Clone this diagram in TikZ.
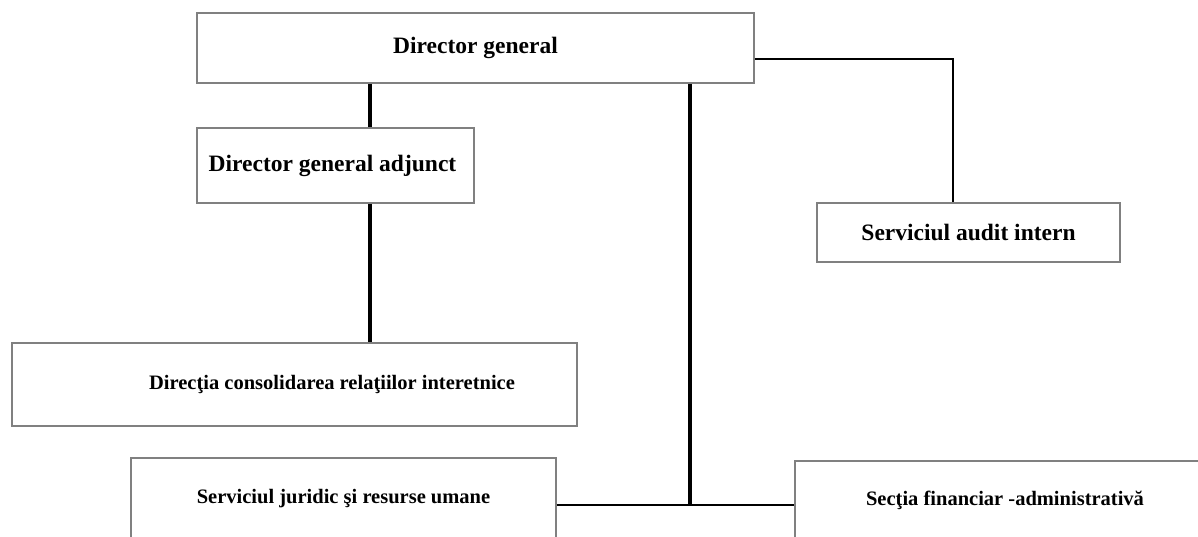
\documentclass[tikz,border=0pt]{standalone}
\usepackage{fontspec}
\setmainfont{Liberation Serif}
\usetikzlibrary{calc}

\begin{document}
\begin{tikzpicture}[x=1pt, y=-1pt,
		box/.style={draw=black!50, line width=1.8pt, fill=white, inner sep=0pt, font=\bfseries\fontsize{23.5}{28}\selectfont},
		smallbox/.style={box, font=\bfseries\fontsize{20.5}{24}\selectfont},
		heavy/.style={line width=3.6pt},
		light/.style={line width=1.5pt}]
				\useasboundingbox (0,0) rectangle (1198,536);
				\node[box, minimum width=277pt, minimum height=75pt] (dga) at (335.5,165.5) {\hspace*{-6pt}Director general adjunct};
				\node[box, minimum width=557pt, minimum height=70pt] (dg) at (475.5,48) {Director general};
				\node[box, minimum width=303pt, minimum height=59pt] (sai) at (968.5,232.5) {Serviciul audit intern};
				\node[smallbox, minimum width=565pt, minimum height=83pt] (dcri) at (294.5,384.5) {\hspace*{75pt}Direcţia consolidarea relaţiilor interetnice};
				\node[smallbox, minimum width=425pt, minimum height=82pt] (sjru) at (343.5,499) {Serviciul juridic şi resurse umane};
				\node[smallbox, minimum width=420pt, minimum height=79pt] (sfa) at (1005,500.5) {Secţia financiar -administrativă};
				\coordinate (adj) at (370,0);
				\coordinate (aud) at (953,59);
				\coordinate (jn) at (690,505);
				\draw[heavy] (dg.south -| adj) -- (dga.north -| adj);
				\draw[heavy] (dga.south -| adj) -- (dcri.north -| adj);
				\draw[light] (dg.east |- aud) -| (sai.north -| aud);
				\draw[heavy] (dg.south -| jn) -- (jn);
				\draw[light] (sjru.east |- jn) -- (sfa.west |- jn);
			\end{tikzpicture}
\end{document}
